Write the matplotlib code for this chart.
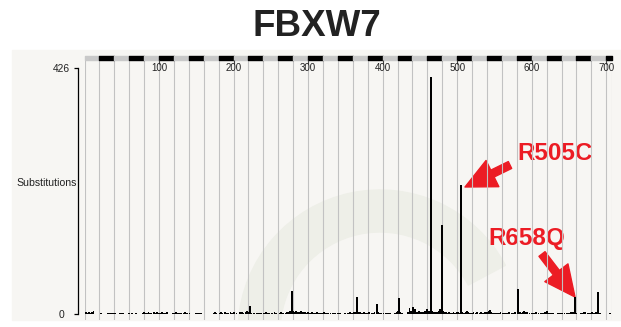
import matplotlib
matplotlib.use('Agg')
import matplotlib.pyplot as plt
from matplotlib.patches import Rectangle, Wedge

plt.rcParams['font.family'] = ['Liberation Sans', 'DejaVu Sans']

# protein length and y scale
protein_len = 707
y_max = 426

# hotspot positions (residue) and substitution counts
hotspot_pos = [278, 366, 392, 422, 465, 479, 505, 581, 658, 689]
hotspot_counts = [40, 30, 18, 27, 410, 154, 223, 44, 30, 38]

# low level background substitutions
background_pos = [1, 2, 3, 5, 6, 8, 10, 12, 22, 31, 33, 35, 37, 39, 41, 47, 49, 52, 60, 64, 69,
                  78, 80, 82, 84, 86, 88, 90, 93, 95, 97, 99, 101, 104, 106, 108, 111,
                  119, 121, 123, 125, 128, 130, 133, 135, 138, 141, 150, 152, 155, 157,
                  173, 175, 177, 181, 183, 185, 188, 190, 193, 196, 198, 201, 204,
                  209, 211, 213, 216, 218, 220, 222, 224, 227, 231, 234, 237,
                  241, 243, 246, 248, 252, 255, 257, 262, 264, 266, 270, 272, 274, 276,
                  280, 282, 284, 286, 288, 290, 292, 294, 296, 298, 300, 302, 305, 307, 309, 312, 314, 316,
                  319, 321, 324, 327, 330, 333, 336, 340, 343, 350,
                  354, 356, 358, 360, 362, 364, 368, 370, 372, 375, 377, 379, 382, 385, 387, 389,
                  394, 396, 398, 401, 404, 407, 410, 417, 419, 421, 424, 426,
                  434, 436, 438, 440, 441, 443, 445, 447, 449, 451, 453, 455, 457, 459, 461, 463,
                  467, 469, 471, 473, 475, 477, 481, 483, 485, 487, 489, 491, 493, 495, 497, 499, 501, 503,
                  507, 509, 511, 513, 515, 517, 520, 522, 525, 527, 530, 532, 535, 537, 540, 542, 544, 546, 548,
                  551, 553, 556, 558, 561, 564, 567, 570, 573, 576, 578,
                  584, 586, 588, 590, 592, 594, 597, 600, 603, 606, 609, 612, 615, 618, 620, 623, 626, 629,
                  635, 638, 641, 644, 647, 650, 653, 655, 660, 666, 668, 670, 672, 675, 678, 681, 684, 686,
                  692, 705]
background_counts = [2, 3, 2, 2, 3, 2, 3, 5, 1, 2, 2, 1, 2, 2, 2, 2, 2, 2, 1, 1, 1,
                     2, 3, 2, 2, 3, 2, 2, 3, 2, 3, 2, 2, 3, 2, 2, 3,
                     2, 2, 3, 2, 2, 2, 2, 3, 2, 2, 2, 2, 2, 2,
                     2, 3, 2, 2, 3, 2, 3, 2, 2, 4, 2, 3, 2,
                     3, 4, 2, 3, 5, 3, 14, 2, 1, 1, 2, 2,
                     2, 3, 2, 2, 2, 3, 2, 2, 3, 2, 2, 4, 3, 5,
                     5, 4, 6, 3, 4, 5, 3, 4, 3, 2, 3, 2, 3, 2, 2, 3, 2, 2,
                     2, 3, 2, 2, 2, 1, 1, 1, 1, 1,
                     2, 3, 2, 2, 4, 3, 4, 3, 2, 3, 2, 2, 3, 2, 2, 3,
                     3, 2, 2, 2, 2, 2, 2, 2, 3, 5, 4, 2,
                     4, 11, 5, 3, 12, 8, 4, 3, 5, 3, 4, 3, 5, 9, 6, 5,
                     5, 3, 4, 3, 6, 8, 6, 4, 3, 2, 3, 2, 2, 3, 2, 4, 3, 2,
                     3, 2, 3, 6, 4, 2, 2, 3, 2, 3, 2, 3, 2, 3, 4, 5, 7, 4, 2,
                     2, 2, 2, 3, 2, 2, 2, 3, 2, 2, 3,
                     3, 2, 3, 5, 3, 4, 2, 2, 2, 3, 2, 2, 2, 3, 5, 2, 2, 2,
                     2, 2, 2, 2, 2, 2, 3, 3, 2, 2, 2, 3, 4, 2, 2, 3, 2, 3,
                     2, 1]

top_ticks = [100, 200, 300, 400, 500, 600, 700]
labels = [('R505C', 505), ('R658Q', 658)]

W, H = 621, 327
fig = plt.figure(figsize=(W / 100, H / 100), dpi=100)

# background layer in pixel coordinates
bg = fig.add_axes([0, 0, 1, 1])
bg.set_xlim(0, W)
bg.set_ylim(H, 0)
bg.axis('off')
panel = Rectangle((12, 50), W - 12, 270, color='#f7f6f3', zorder=0)
bg.add_patch(panel)
arc = Wedge((380, 332), 142, 184, 332, width=42, color='#eeefe8', zorder=1)
bg.add_patch(arc)
arc.set_clip_path(panel)

bg.text(317, 27, 'FBXW7', ha='center', va='center', fontsize=26.5, fontweight='bold', color='#222222')
bg.text(77, 183, 'Substitutions', ha='right', va='center', fontsize=7.6, color='#222222')

# data axes, placed so residue 0..707 spans px 84.5..611.5 and 0..426 spans px 314..67.7
px_per_unit = (314 - 67.7) / y_max
y_bot = -(320 - 314) / px_per_unit
y_top = y_max + (67.7 - 56) / px_per_unit
ruler_low = y_max + (67.7 - 59.6) / px_per_unit
ax = fig.add_axes([84.5 / W, (H - 320) / H, (611.5 - 84.5) / W, (320 - 56) / H])
ax.patch.set_alpha(0)
ax.set_xlim(0, protein_len)
ax.set_ylim(y_bot, y_top)
for s in ['top', 'right', 'bottom']:
    ax.spines[s].set_visible(False)
ax.spines['left'].set_position(('outward', 4.5))
ax.spines['left'].set_bounds(0, y_max)
ax.spines['left'].set_linewidth(0.9)
ax.set_xticks([])
ax.set_yticks([0, y_max])
ax.set_yticklabels(['0', str(y_max)], ha='center')
ax.tick_params(axis='y', length=3.1, width=0.9, pad=9, labelsize=7.4, labelcolor='#222222')

# vertical grid every 20 residues plus the protein end
grid_x = list(range(0, protein_len, 20)) + [protein_len]
ax.vlines(grid_x, y_bot, ruler_low, color='#c2c2c2', lw=0.8, zorder=1)

# ruler with alternating blocks
for i, start in enumerate(range(0, protein_len, 20)):
    end = min(start + 20, protein_len)
    c = 'black' if i % 2 == 1 else '#c9c9c9'
    ax.broken_barh([(start, end - start)], (ruler_low, y_top - ruler_low), color=c, zorder=2, clip_on=False)

# ticks and labels at hundreds
ax.vlines(top_ticks, y_max + (67.7 - 64) / px_per_unit, ruler_low, color='#444444', lw=0.8, zorder=2)
for t in top_ticks:
    ax.text(t, y_max + 0.3, str(t), ha='center', va='center', fontsize=7, color='#222222', zorder=3)

# bars
ax.bar(background_pos, background_counts, width=2.4, color='black', zorder=3)
ax.bar(hotspot_pos, hotspot_counts, width=2.6, color='black', zorder=3)

# red annotations
red = '#ec1c24'
label_xy = {'R505C': ((555, 153), (510, 165), (465, 187)),
            'R658Q': ((527, 239), (542, 254), (575, 297))}
for name, pos in labels:
    (tx, ty), tail, tip = label_xy[name]
    bg.text(tx, ty, name, ha='center', va='center', fontsize=17.5, fontweight='bold', color=red, zorder=10)
    bg.annotate('', xy=tip, xytext=tail, zorder=10,
                arrowprops=dict(arrowstyle='simple,head_length=2.2,head_width=2.1,tail_width=0.55',
                                color=red, mutation_scale=10, shrinkA=0, shrinkB=0))

fig.savefig('out.png', dpi=100)
